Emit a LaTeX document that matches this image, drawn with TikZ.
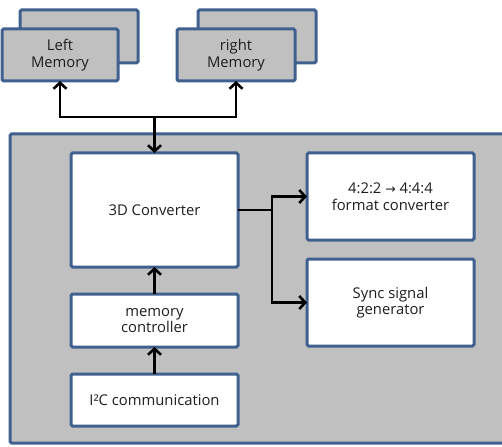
\documentclass[tikz,border=0pt]{standalone}
\usepackage{fontspec}
\setmainfont{Open Sans}
\newfontfamily\symfont{DejaVu Sans}
\usetikzlibrary{arrows.meta}
\definecolor{bord}{RGB}{64,97,143}
\definecolor{boxgray}{RGB}{192,192,192}
\definecolor{txt}{RGB}{30,30,30}
\tikzset{
  blk/.style={draw=bord, line width=3pt, rounded corners=1.5pt, inner sep=0pt, outer sep=0pt, align=center,
    text=txt, font=\fontsize{14.8}{16.5}\selectfont},
  graybox/.style={blk, fill=boxgray},
  whitebox/.style={blk, fill=white},
  arr/.style={line width=2.6pt, -{Straight Barb[length=6pt,width=13pt,line width=2.6pt]}},
  ln/.style={line width=2.6pt}
}
\begin{document}
\begin{tikzpicture}[x=1pt,y=-1pt]
\useasboundingbox (0,0) rectangle (502,446);
\fill[white] (0,0) rectangle (502,446);
% outer gray box
\node[graybox, minimum width=510pt, minimum height=309pt, anchor=north west] (big) at (10,134) {};
% memories
\node[graybox, minimum width=118pt, minimum height=53pt] (LMback) at (79,36.5) {};
\node[graybox, minimum width=116pt, minimum height=52pt] (LMfront) at (60,55) {Left\\Memory};
\node[graybox, minimum width=118pt, minimum height=53pt] (RMback) at (257,36.5) {};
\node[graybox, minimum width=118pt, minimum height=52pt] (RMfront) at (236,55) {right\\Memory};
% inner boxes
\node[whitebox, minimum width=167pt, minimum height=114pt] (conv) at (154.5,210) {3D Converter};
\node[whitebox, minimum width=167pt, minimum height=53pt] (memctl) at (154.5,320.5) {memory\\controller};
\node[whitebox, minimum width=167pt, minimum height=52pt] (iic) at (154.5,400) {I²C communication};
\node[whitebox, minimum width=167pt, minimum height=87pt] (fmt) at (390.5,196.5) {4:2:2 {\symfont\fontsize{12.5}{16.5}\selectfont →} 4:4:4\\format converter};
\node[whitebox, minimum width=167pt, minimum height=87pt] (sync) at (390.5,302.5) {Sync signal\\generator};
% memory bus
\coordinate (bus) at (conv.north |- 0,117);
\draw[arr] (bus) -| (LMfront.south);
\draw[arr] (bus) -| (RMfront.south);
\draw[arr] (bus) -- (conv.north);
% branch
\coordinate (br) at (272,210);
\draw[ln] (conv.east) -- (br);
\draw[arr] (br) |- (fmt.west);
\draw[arr] (br) |- (sync.west);
% vertical chain
\draw[arr] (memctl.north) -- (conv.south);
\draw[arr] (iic.north) -- (memctl.south);
\end{tikzpicture}
\end{document}
